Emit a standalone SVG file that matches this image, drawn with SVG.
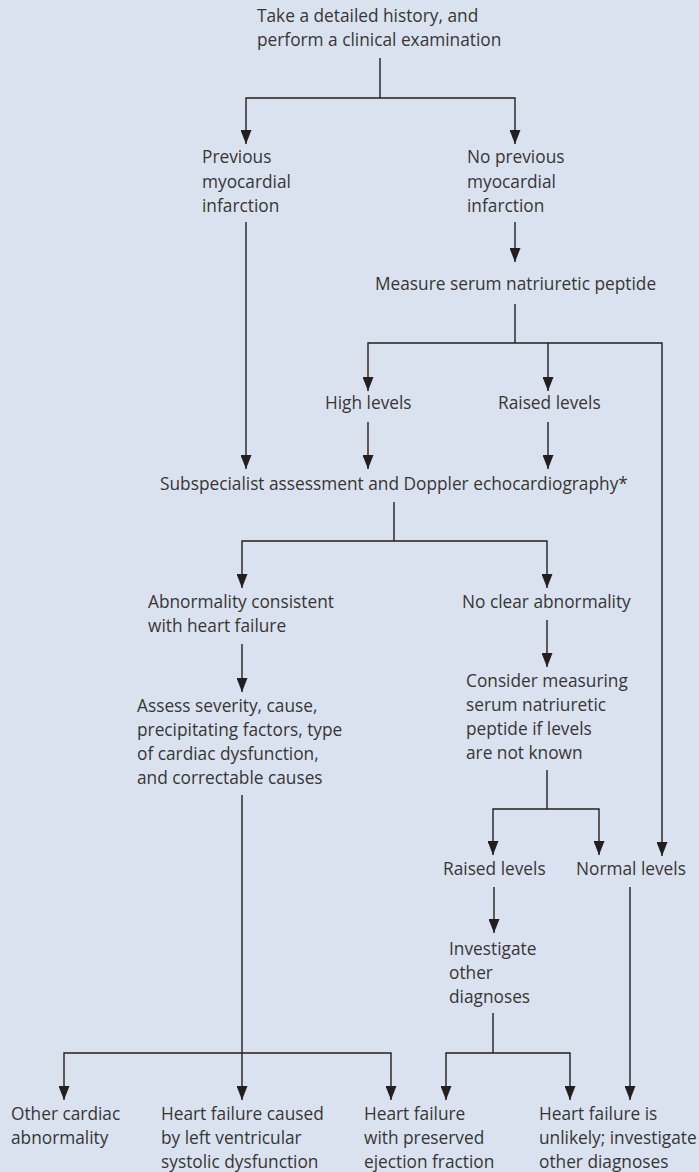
<svg xmlns="http://www.w3.org/2000/svg" width="699" height="1172" viewBox="0 0 699 1172">
<style>
text{font-family:"Open Sans","Noto Sans","Liberation Sans",sans-serif;font-size:17.3px;fill:#363636}
.c path{fill:none;stroke:#231f20;stroke-width:1.4}
</style>
<defs>
<marker id="ah" viewBox="0 0 14 11" refX="14" refY="5.5" markerWidth="14" markerHeight="11" markerUnits="userSpaceOnUse" orient="auto">
<path d="M0,0 L14,5.5 L0,11 z" fill="#231f20"/>
</marker>
</defs>
<rect width="699" height="1172" fill="#dbe2ef"/>
<g class="c" id="connectors">
<path d="M380,58 V98"/>
<path d="M380,98 H246 V144" marker-end="url(#ah)"/>
<path d="M380,98 H515 V144" marker-end="url(#ah)"/>
<path d="M515,222 V262" marker-end="url(#ah)"/>
<path d="M515,304 V343"/>
<path d="M515,343 H368 V391" marker-end="url(#ah)"/>
<path d="M515,343 H548 V391" marker-end="url(#ah)"/>
<path d="M548,343 H662 V856" marker-end="url(#ah)"/>
<path d="M246,222 V469" marker-end="url(#ah)"/>
<path d="M368,422 V469" marker-end="url(#ah)"/>
<path d="M548,422 V469" marker-end="url(#ah)"/>
<path d="M394,502 V541"/>
<path d="M394,541 H242 V588" marker-end="url(#ah)"/>
<path d="M394,541 H547 V588" marker-end="url(#ah)"/>
<path d="M242,644 V692" marker-end="url(#ah)"/>
<path d="M547,620 V667" marker-end="url(#ah)"/>
<path d="M242,795 V1100" marker-end="url(#ah)"/>
<path d="M242,1053 H64 V1100" marker-end="url(#ah)"/>
<path d="M242,1053 H391 V1100" marker-end="url(#ah)"/>
<path d="M547,770 V809"/>
<path d="M547,809 H493 V855" marker-end="url(#ah)"/>
<path d="M547,809 H599 V855" marker-end="url(#ah)"/>
<path d="M494,887 V933" marker-end="url(#ah)"/>
<path d="M493,1013 V1053"/>
<path d="M493,1053 H446 V1100" marker-end="url(#ah)"/>
<path d="M493,1053 H570 V1100" marker-end="url(#ah)"/>
<path d="M630,887 V1100" marker-end="url(#ah)"/>
</g>
<g id="n-history"><text x="257" y="22">Take a detailed history, and</text><text x="257" y="46">perform a clinical examination</text></g>
<g id="n-prev-mi"><text x="202" y="163">Previous</text><text x="202" y="188">myocardial</text><text x="202" y="212">infarction</text></g>
<g id="n-no-prev-mi"><text x="467" y="163">No previous</text><text x="467" y="188">myocardial</text><text x="467" y="212">infarction</text></g>
<g id="n-measure"><text x="375" y="290">Measure serum natriuretic peptide</text></g>
<g id="n-high"><text x="325" y="409">High levels</text></g>
<g id="n-raised1"><text x="498" y="409">Raised levels</text></g>
<g id="n-subspecialist"><text x="160" y="490">Subspecialist assessment and Doppler echocardiography*</text></g>
<g id="n-abnormality"><text x="148" y="608">Abnormality consistent</text><text x="148" y="632">with heart failure</text></g>
<g id="n-no-clear"><text x="462" y="608">No clear abnormality</text></g>
<g id="n-assess"><text x="137" y="712">Assess severity, cause,</text><text x="137" y="736">precipitating factors, type</text><text x="137" y="760">of cardiac dysfunction,</text><text x="137" y="784">and correctable causes</text></g>
<g id="n-consider"><text x="466" y="687">Consider measuring</text><text x="466" y="711">serum natriuretic</text><text x="466" y="735">peptide if levels</text><text x="466" y="759">are not known</text></g>
<g id="n-raised2"><text x="443" y="875">Raised levels</text></g>
<g id="n-normal"><text x="576" y="875">Normal levels</text></g>
<g id="n-investigate"><text x="449" y="955">Investigate</text><text x="449" y="979">other</text><text x="449" y="1003">diagnoses</text></g>
<g id="n-other-cardiac"><text x="11" y="1120">Other cardiac</text><text x="11" y="1144">abnormality</text></g>
<g id="n-lvsd"><text x="161" y="1120">Heart failure caused</text><text x="161" y="1144">by left ventricular</text><text x="161" y="1168">systolic dysfunction</text></g>
<g id="n-hfpef"><text x="364" y="1120">Heart failure</text><text x="364" y="1144">with preserved</text><text x="364" y="1168">ejection fraction</text></g>
<g id="n-unlikely"><text x="539" y="1120">Heart failure is</text><text x="539" y="1144">unlikely; investigate</text><text x="539" y="1168">other diagnoses</text></g>
</svg>
